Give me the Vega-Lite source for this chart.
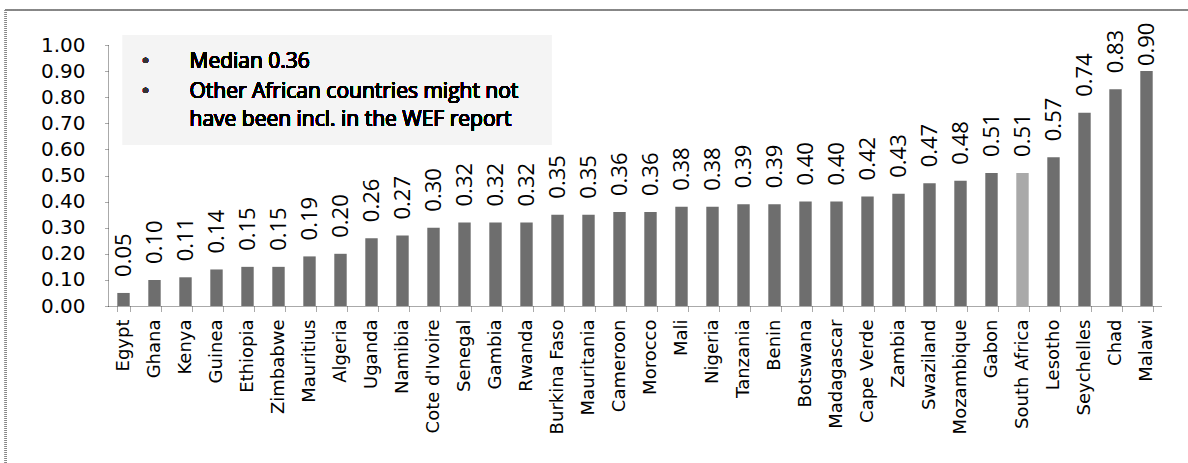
{
  "$schema": "https://vega.github.io/schema/vega-lite/v6.json",
  "autosize": "none",
  "width": 1054,
  "height": 261,
  "padding": {"left": 108, "top": 45, "right": 26, "bottom": 157},
  "background": "white",
  "config": {"view": {"stroke": null}},
  "data": {"values": [
    {"country": "Egypt", "value": 0.05},
    {"country": "Ghana", "value": 0.10},
    {"country": "Kenya", "value": 0.11},
    {"country": "Guinea", "value": 0.14},
    {"country": "Ethiopia", "value": 0.15},
    {"country": "Zimbabwe", "value": 0.15},
    {"country": "Mauritius", "value": 0.19},
    {"country": "Algeria", "value": 0.20},
    {"country": "Uganda", "value": 0.26},
    {"country": "Namibia", "value": 0.27},
    {"country": "Cote d'Ivoire", "value": 0.30},
    {"country": "Senegal", "value": 0.32},
    {"country": "Gambia", "value": 0.32},
    {"country": "Rwanda", "value": 0.32},
    {"country": "Burkina Faso", "value": 0.35},
    {"country": "Mauritania", "value": 0.35},
    {"country": "Cameroon", "value": 0.36},
    {"country": "Morocco", "value": 0.36},
    {"country": "Mali", "value": 0.38},
    {"country": "Nigeria", "value": 0.38},
    {"country": "Tanzania", "value": 0.39},
    {"country": "Benin", "value": 0.39},
    {"country": "Botswana", "value": 0.40},
    {"country": "Madagascar", "value": 0.40},
    {"country": "Cape Verde", "value": 0.42},
    {"country": "Zambia", "value": 0.43},
    {"country": "Swaziland", "value": 0.47},
    {"country": "Mozambique", "value": 0.48},
    {"country": "Gabon", "value": 0.51},
    {"country": "South Africa", "value": 0.51},
    {"country": "Lesotho", "value": 0.57},
    {"country": "Seychelles", "value": 0.74},
    {"country": "Chad", "value": 0.83},
    {"country": "Malawi", "value": 0.90}
  ]},
  "encoding": {
    "x": {
      "field": "country", "type": "nominal", "sort": null,
      "scale": {
        "domain": ["Egypt", "Ghana", "Kenya", "Guinea", "Ethiopia", "Zimbabwe", "Mauritius", "Algeria", "Uganda", "Namibia", "Cote d'Ivoire", "Senegal", "Gambia", "Rwanda", "Burkina Faso", "Mauritania", "Cameroon", "Morocco", "Mali", "Nigeria", "Tanzania", "Benin", "Botswana", "Madagascar", "Cape Verde", "Zambia", "Swaziland", "Mozambique", "Gabon", "South Africa", "Lesotho", "Seychelles", "Chad", "Malawi"],
        "paddingInner": 0.6, "paddingOuter": 0.3
      },
      "axis": {
        "title": null, "labelAngle": -90, "labelAlign": "right", "labelBaseline": "middle",
        "labelFont": "DejaVu Sans", "labelFontSize": 18, "labelColor": "#000",
        "labelPadding": 8, "tickSize": 5, "tickBand": "extent",
        "domainColor": "#555", "domainDash": [1, 1], "tickColor": "#555", "tickDash": [1, 1]
      }
    },
    "y": {
      "field": "value", "type": "quantitative",
      "scale": {"domain": [0, 1]},
      "axis": {
        "title": null, "values": [0, 0.1, 0.2, 0.3, 0.4, 0.5, 0.6, 0.7, 0.8, 0.9, 1.0],
        "format": ".2f", "grid": false,
        "labelFont": "DejaVu Sans", "labelFontSize": 20, "labelColor": "#000",
        "labelPadding": 19, "tickSize": 4,
        "domainColor": "#555", "domainDash": [1, 1], "tickColor": "#555", "tickDash": [1, 1]
      }
    }
  },
  "layer": [
    {
      "mark": {"type": "rule", "stroke": "#888", "strokeWidth": 1.5, "strokeDash": [1, 1], "clip": false},
      "encoding": {
        "x": {"datum": "Egypt", "type": "nominal", "bandPosition": -9.0},
        "y": {"datum": 1.134},
        "y2": {"datum": -0.9}
      }
    },
    {
      "mark": {"type": "rule", "stroke": "#888", "strokeWidth": 1.5, "strokeDash": [1, 1], "clip": false, "x2Offset": 150},
      "encoding": {
        "x": {"datum": "Egypt", "type": "nominal", "bandPosition": -9.0},
        "x2": {"datum": "Malawi"},
        "y": {"datum": 1.134}
      }
    },
    {
      "mark": {"type": "rect", "fill": "#f4f4f4"},
      "encoding": {
        "x": {"datum": "Egypt", "type": "nominal", "bandPosition": 0.45},
        "x2": {"datum": "Burkina Faso", "bandPosition": 0},
        "y": {"datum": 1.038},
        "y2": {"datum": 0.617}
      }
    },
    {
      "mark": {"type": "bar"},
      "encoding": {
        "color": {
          "condition": {"test": "datum.country === 'South Africa'", "value": "#a9a9a9"},
          "value": "#6e6e6e"
        }
      }
    },
    {
      "transform": [{"filter": "datum.value < 0.86"}],
      "mark": {"type": "text", "angle": -90, "align": "left", "baseline": "middle", "dx": 16, "font": "Open Sans", "fontSize": 22, "color": "#000"},
      "encoding": {"text": {"field": "value", "type": "quantitative", "format": ".2f"}}
    },
    {
      "transform": [{"filter": "datum.value >= 0.86"}],
      "mark": {"type": "text", "angle": -90, "align": "left", "baseline": "middle", "dx": 5, "font": "Open Sans", "fontSize": 22, "color": "#000"},
      "encoding": {"text": {"field": "value", "type": "quantitative", "format": ".2f"}}
    },
    {
      "mark": {"type": "text", "text": "•", "align": "center", "baseline": "middle", "dx": 22, "font": "DejaVu Sans", "fontSize": 18, "color": "#333"},
      "encoding": {"x": {"datum": "Egypt", "type": "nominal"}, "y": {"datum": 0.935}}
    },
    {
      "mark": {"type": "text", "text": "•", "align": "center", "baseline": "middle", "dx": 22, "font": "DejaVu Sans", "fontSize": 18, "color": "#333"},
      "encoding": {"x": {"datum": "Egypt", "type": "nominal"}, "y": {"datum": 0.82}}
    },
    {
      "mark": {"type": "text", "text": "Median 0.36", "align": "left", "baseline": "middle", "dx": 66, "font": "Open Sans", "fontSize": 21, "color": "#000"},
      "encoding": {"x": {"datum": "Egypt", "type": "nominal"}, "y": {"datum": 0.935}}
    },
    {
      "mark": {"type": "text", "text": "Other African countries might not", "align": "left", "baseline": "middle", "dx": 66, "font": "Open Sans", "fontSize": 21, "color": "#000"},
      "encoding": {"x": {"datum": "Egypt", "type": "nominal"}, "y": {"datum": 0.82}}
    },
    {
      "mark": {"type": "text", "text": "have been incl. in the WEF report", "align": "left", "baseline": "middle", "dx": 66, "font": "Open Sans", "fontSize": 21, "color": "#000"},
      "encoding": {"x": {"datum": "Egypt", "type": "nominal"}, "y": {"datum": 0.713}}
    }
  ]
}
